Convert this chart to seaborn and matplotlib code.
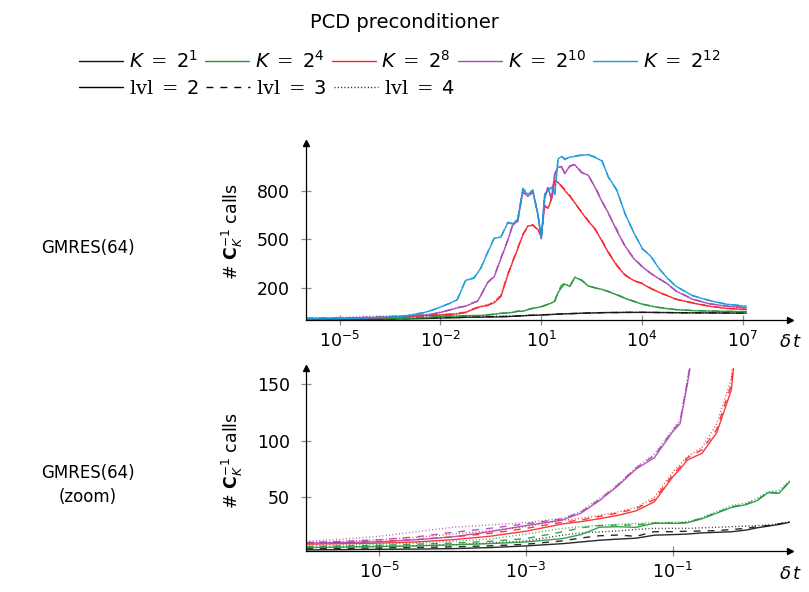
import numpy as np
import pandas as pd
import matplotlib
matplotlib.use("Agg")
import matplotlib.pyplot as plt
from matplotlib.lines import Line2D
from matplotlib.ticker import FixedLocator, NullLocator
import seaborn as sns

# x grid: log10 of the time step dt
log_dt = [-6, -5.5, -5, -4.5, -4, -3.5, -3, -2.5, -2.25, -2,
          -1.75, -1.5, -1.25, -1.0, -0.9, -0.8, -0.6, -0.4, -0.2, 0.0,
          0.15, 0.3, 0.45, 0.6, 0.75, 0.9, 1.0, 1.1, 1.2, 1.3,
          1.4, 1.5, 1.6, 1.7, 1.85, 2.0, 2.2, 2.4, 2.6, 2.8,
          3.0, 3.25, 3.5, 3.75, 4.0, 4.25, 4.5, 4.75, 5.0, 5.5,
          6.0, 6.5, 7.1]

k_exps = ['1', '4', '8', '10', '12']
lvls = ['2', '3', '4']

# number of C_K^-1 calls, K = 2^1
k1_lvl2 = [3.5, 3.7, 4.0, 4.2, 4.6, 5.5, 7.0, 9.0, 10.5, 12.0,
           13.0, 13.8, 16.5, 17.0, 17.2, 17.5, 18.5, 19.0, 19.5, 21.0,
           23.0, 24.5, 26.0, 28.0, 29.0, 30.0, 31.0, 32.0, 33.0, 34.0,
           35.0, 36.0, 37.0, 38.0, 39.0, 40.0, 42.0, 43.0, 44.0, 45.0,
           46.0, 46.0, 47.0, 47.0, 47.0, 47.0, 46.0, 46.0, 45.0, 44.0,
           44.0, 43.0, 43.0]
k1_lvl3 = [4.5, 4.8, 5.2, 5.6, 6.2, 7.0, 8.5, 11.5, 14.0, 16.0,
           16.6, 15.5, 19.6, 19.6, 19.8, 20.0, 20.2, 20.5, 21.5, 22.5,
           24.0, 25.0, 26.5, 28.5, 29.5, 30.5, 31.5, 32.5, 33.5, 34.5,
           35.5, 36.5, 37.5, 38.5, 39.5, 40.5, 42.0, 43.5, 44.5, 45.5,
           46.5, 46.5, 47.0, 47.5, 47.5, 47.0, 46.5, 46.0, 45.5, 44.5,
           44.0, 43.5, 43.0]
k1_lvl4 = [5.5, 6.0, 6.5, 7.2, 8.0, 9.5, 11.5, 16.5, 18.5, 19.4,
           20.2, 21.6, 22.5, 22.5, 22.5, 22.5, 23.0, 23.5, 24.0, 24.5,
           25.0, 25.5, 26.5, 28.5, 29.5, 30.5, 31.5, 32.5, 33.5, 34.5,
           35.5, 36.5, 37.5, 38.5, 39.5, 40.5, 42.5, 43.5, 44.5, 45.5,
           46.5, 47.0, 47.5, 47.5, 47.5, 47.0, 46.5, 46.0, 45.5, 45.0,
           44.5, 43.5, 43.0]

# K = 2^4
k4_lvl2 = [5.5, 6.0, 6.5, 7.0, 8.0, 9.0, 10.5, 13.5, 17.0, 23.5,
           24.0, 23.4, 27.0, 27.0, 27.0, 27.5, 31.0, 36.0, 41.0, 43.5,
           47.0, 54.0, 53.5, 64.0, 72.0, 78.0, 82.0, 88.0, 97.0, 105.0,
           115.0, 170.0, 200.0, 222.0, 208.0, 265.0, 245.0, 210.0, 198.0, 190.0,
           175.0, 155.0, 133.0, 115.0, 98.0, 87.0, 77.0, 70.0, 64.0, 58.0,
           55.0, 53.0, 52.0]
k4_lvl3 = [6.5, 7.0, 7.5, 8.5, 9.5, 11.0, 13.5, 19.5, 23.0, 25.0,
           25.5, 25.5, 27.3, 27.2, 27.3, 28.0, 31.5, 36.5, 41.5, 44.0,
           47.5, 54.5, 54.0, 64.5, 73.0, 79.0, 83.0, 90.0, 99.0, 108.0,
           118.0, 175.0, 215.0, 228.0, 212.0, 262.0, 247.0, 212.0, 200.0, 188.0,
           177.0, 157.0, 135.0, 117.0, 99.0, 88.0, 78.0, 71.0, 65.0, 59.0,
           56.0, 54.0, 52.0]
k4_lvl4 = [7.0, 7.8, 8.5, 9.5, 11.0, 13.0, 17.5, 22.5, 24.0, 25.2,
           26.0, 26.8, 27.6, 28.0, 28.2, 28.4, 32.0, 37.5, 42.5, 45.0,
           49.0, 55.0, 56.0, 65.0, 72.5, 78.5, 82.5, 89.0, 98.0, 106.0,
           116.0, 172.0, 205.0, 224.0, 210.0, 264.0, 246.0, 211.0, 199.0, 189.0,
           176.0, 156.0, 134.0, 116.0, 98.5, 87.5, 77.5, 70.5, 64.5, 58.5,
           55.5, 53.5, 52.0]

# K = 2^8
k8_lvl2 = [8.5, 9.0, 9.5, 10.5, 12.5, 15.5, 20.0, 26.5, 28.5, 31.0,
           34.0, 38.0, 46.0, 68.0, 75.0, 83.0, 89.0, 107.0, 145.0, 275.0,
           360.0, 440.0, 525.0, 582.0, 585.0, 560.0, 513.0, 709.0, 690.0, 745.0,
           864.0, 850.0, 830.0, 800.0, 765.0, 725.0, 665.0, 610.0, 565.0, 490.0,
           415.0, 335.0, 275.0, 245.0, 225.0, 195.0, 172.0, 150.0, 130.0, 105.0,
           85.0, 72.0, 65.0]
k8_lvl3 = [9.5, 10.0, 11.0, 12.5, 15.0, 18.0, 22.5, 28.0, 30.0, 33.0,
           36.0, 40.0, 48.0, 70.0, 77.0, 85.0, 92.0, 110.0, 150.0, 280.0,
           365.0, 445.0, 530.0, 578.0, 590.0, 555.0, 518.0, 700.0, 695.0, 750.0,
           860.0, 855.0, 825.0, 810.0, 770.0, 720.0, 670.0, 615.0, 560.0, 495.0,
           420.0, 340.0, 280.0, 240.0, 228.0, 198.0, 170.0, 152.0, 128.0, 107.0,
           86.0, 73.0, 66.0]
k8_lvl4 = [10.0, 11.0, 12.5, 14.5, 17.5, 20.5, 24.0, 29.5, 31.5, 34.0,
           37.0, 41.0, 50.0, 72.0, 79.0, 86.0, 94.0, 115.0, 155.0, 285.0,
           362.0, 442.0, 528.0, 580.0, 587.0, 558.0, 515.0, 705.0, 692.0, 748.0,
           862.0, 852.0, 828.0, 805.0, 768.0, 722.0, 668.0, 612.0, 562.0, 492.0,
           418.0, 338.0, 278.0, 242.0, 226.0, 196.0, 171.0, 151.0, 129.0, 106.0,
           85.0, 72.0, 65.0]

# K = 2^10
k10_lvl2 = [9.5, 10.0, 10.7, 12.5, 15.0, 19.5, 25.0, 30.0, 36.0, 47.0,
            60.0, 75.0, 85.0, 108.0, 115.0, 150.0, 230.0, 268.0, 380.0, 490.0,
            585.0, 612.0, 790.0, 765.0, 790.0, 650.0, 503.0, 750.0, 820.0, 745.0,
            905.0, 945.0, 950.0, 905.0, 955.0, 960.0, 912.0, 895.0, 820.0, 735.0,
            660.0, 550.0, 455.0, 380.0, 330.0, 290.0, 255.0, 225.0, 180.0, 128.0,
            100.0, 86.0, 75.0]
k10_lvl3 = [10.0, 11.0, 12.5, 15.0, 19.0, 22.5, 26.5, 31.0, 37.0, 48.0,
            61.0, 76.0, 87.0, 109.0, 117.0, 152.0, 232.0, 272.0, 385.0, 495.0,
            590.0, 608.0, 795.0, 760.0, 795.0, 655.0, 505.0, 745.0, 825.0, 750.0,
            900.0, 950.0, 945.0, 910.0, 950.0, 965.0, 915.0, 890.0, 825.0, 740.0,
            655.0, 560.0, 450.0, 385.0, 332.0, 288.0, 258.0, 222.0, 182.0, 130.0,
            101.0, 87.0, 76.0]
k10_lvl4 = [11.0, 13.0, 15.5, 19.5, 23.5, 25.5, 27.5, 31.5, 37.5, 49.0,
            61.0, 76.5, 88.0, 110.0, 118.0, 154.0, 228.0, 270.0, 382.0, 492.0,
            588.0, 615.0, 792.0, 768.0, 792.0, 652.0, 506.0, 752.0, 818.0, 748.0,
            908.0, 942.0, 952.0, 908.0, 952.0, 958.0, 910.0, 897.0, 818.0, 737.0,
            662.0, 552.0, 458.0, 382.0, 328.0, 292.0, 256.0, 224.0, 181.0, 129.0,
            100.0, 86.0, 75.0]

# K = 2^12
k12_lvl2 = [8.0, 8.5, 9.5, 11.0, 14.0, 18.0, 26.0, 45.0, 60.0, 80.0,
            100.0, 125.0, 245.0, 258.0, 290.0, 320.0, 415.0, 505.0, 513.0, 600.0,
            594.0, 625.0, 806.0, 778.0, 800.0, 655.0, 503.0, 780.0, 800.0, 822.0,
            775.0, 995.0, 1012.0, 992.0, 1008.0, 1012.0, 1018.0, 1024.0, 1005.0, 985.0,
            885.0, 800.0, 655.0, 540.0, 445.0, 395.0, 320.0, 258.0, 210.0, 150.0,
            120.0, 98.0, 85.0]
k12_lvl3 = [8.5, 9.0, 10.0, 11.5, 14.5, 18.5, 27.0, 46.0, 61.0, 81.0,
            101.0, 127.0, 248.0, 262.0, 293.0, 322.0, 418.0, 508.0, 515.0, 605.0,
            598.0, 622.0, 815.0, 782.0, 805.0, 650.0, 508.0, 775.0, 805.0, 818.0,
            780.0, 1000.0, 1015.0, 998.0, 1005.0, 1015.0, 1022.0, 1020.0, 1010.0, 990.0,
            880.0, 805.0, 650.0, 545.0, 440.0, 400.0, 318.0, 262.0, 208.0, 152.0,
            121.0, 99.0, 86.0]
k12_lvl4 = [9.0, 9.5, 10.5, 12.0, 15.0, 19.0, 27.5, 46.5, 61.5, 81.5,
            102.0, 126.0, 250.0, 260.0, 291.0, 321.0, 416.0, 506.0, 514.0, 602.0,
            596.0, 624.0, 810.0, 780.0, 802.0, 657.0, 505.0, 778.0, 802.0, 820.0,
            778.0, 998.0, 1010.0, 995.0, 1006.0, 1013.0, 1020.0, 1022.0, 1007.0, 987.0,
            883.0, 802.0, 652.0, 542.0, 442.0, 397.0, 319.0, 260.0, 209.0, 151.0,
            120.0, 98.0, 85.0]

series = {
    ('1', '2'): k1_lvl2, ('1', '3'): k1_lvl3, ('1', '4'): k1_lvl4,
    ('4', '2'): k4_lvl2, ('4', '3'): k4_lvl3, ('4', '4'): k4_lvl4,
    ('8', '2'): k8_lvl2, ('8', '3'): k8_lvl3, ('8', '4'): k8_lvl4,
    ('10', '2'): k10_lvl2, ('10', '3'): k10_lvl3, ('10', '4'): k10_lvl4,
    ('12', '2'): k12_lvl2, ('12', '3'): k12_lvl3, ('12', '4'): k12_lvl4,
}

colors = ['#111111', '#23963a', '#f5242a', '#a948b0', '#1b9ae0']
palette = dict(zip(k_exps, colors))
dash_map = {'2': '', '3': (5, 5), '4': (0.7, 1.7)}

rows = []
for (k, lvl), vals in series.items():
    for x, v in zip(log_dt, vals):
        rows.append([10.0 ** x, v, k, lvl])
df = pd.DataFrame(rows, columns=['dt', 'calls', 'K', 'lvl'])

sns.set_style("white")
plt.rcParams['font.family'] = ['DejaVu Sans']
plt.rcParams['text.color'] = 'black'
plt.rcParams['axes.labelcolor'] = 'black'
plt.rcParams['mathtext.fontset'] = 'custom'
plt.rcParams['mathtext.rm'] = 'DejaVu Serif'
plt.rcParams['mathtext.it'] = 'DejaVu Sans:italic'
plt.rcParams['mathtext.bf'] = 'DejaVu Sans:bold'
plt.rcParams['mathtext.sf'] = 'DejaVu Sans'

W, H = 809, 592
fig = plt.figure(figsize=(W / 100, H / 100), dpi=100)

def fx(px):
    return px / W

def fy(py):
    return 1 - py / H

ax1 = fig.add_axes([fx(306), fy(320), fx(790) - fx(306), fy(143) - fy(320)])
ax2 = fig.add_axes([fx(306), fy(551), fx(790) - fx(306), fy(368) - fy(551)])

sns.lineplot(data=df, x='dt', y='calls', hue='K', style='lvl',
             hue_order=k_exps, style_order=lvls, palette=palette, dashes=dash_map,
             estimator=None, lw=1.0, alpha=0.9, legend=False, ax=ax1)
sns.lineplot(data=df[df['K'] != '12'], x='dt', y='calls', hue='K', style='lvl',
             hue_order=k_exps[:4], style_order=lvls, palette=palette, dashes=dash_map,
             estimator=None, lw=1.0, alpha=0.9, legend=False, ax=ax2)

def style_axis(ax, xlim, ylim, xticks, yticks):
    ax.set_xscale('log')
    ax.set_xlim(*xlim)
    ax.set_ylim(*ylim)
    ax.xaxis.set_major_locator(FixedLocator(xticks))
    ax.xaxis.set_minor_locator(NullLocator())
    ax.yaxis.set_major_locator(FixedLocator(yticks))
    ax.set_xlabel('')
    ax.set_ylabel('')
    for s in ['top', 'right']:
        ax.spines[s].set_visible(False)
    for s in ['left', 'bottom']:
        ax.spines[s].set_color('black')
        ax.spines[s].set_linewidth(0.9)
    ax.tick_params(axis='both', which='major', direction='inout', length=7,
                   width=0.9, color='#8c8c8c', labelcolor='black', labelsize=12.5,
                   bottom=True, left=True)
    ax.tick_params(axis='x', pad=4)
    ax.tick_params(axis='y', pad=8)
    ax.plot([1], [0], marker='>', color='black', ms=5, transform=ax.transAxes, clip_on=False)
    ax.plot([0], [1], marker='^', color='black', ms=5, transform=ax.transAxes, clip_on=False)

style_axis(ax1, (1e-6, 10 ** 8.4), (0, 1095), [1e-5, 1e-2, 1e1, 1e4, 1e7], [200, 500, 800])
style_axis(ax2, (1e-6, 10 ** 0.6), (2.5, 164.4), [1e-5, 1e-3, 1e-1], [50, 100, 150])

# titles and labels
fig.text(0.5, fy(22), 'PCD preconditioner', ha='center', va='center', fontsize=14)
ylab = r'# $\mathbf{C}_K^{\mathsf{-1}}$ calls'
fig.text(fx(232), fy(231), ylab, rotation=90, ha='center', va='center', fontsize=12.5)
fig.text(fx(232), fy(460), ylab, rotation=90, ha='center', va='center', fontsize=12.5)
fig.text(fx(88), fy(248), 'GMRES(64)', ha='center', va='center', fontsize=12)
fig.text(fx(88), fy(485), 'GMRES(64)\n(zoom)', ha='center', va='center', fontsize=12,
         linespacing=1.4)
fig.text(fx(791), fy(342), r'$\delta\,t$', ha='center', va='center', fontsize=13)
fig.text(fx(791), fy(574), r'$\delta\,t$', ha='center', va='center', fontsize=13)

# legend rows
leg_kw = dict(loc='center left', frameon=False, fontsize=14, handlelength=2.27,
              handletextpad=0.3, columnspacing=0.35, borderpad=0, borderaxespad=0)
k_handles = [Line2D([], [], color=c, lw=1.0) for c in colors]
k_labels = [r'$K\;=\;\mathsf{2}^{\mathsf{%s}}$' % e for e in k_exps]
fig.legend(k_handles, k_labels, bbox_to_anchor=(fx(79), fy(61)), ncol=5, **leg_kw)
l_handles = [Line2D([], [], color='black', lw=1.0),
             Line2D([], [], color='black', lw=1.0, dashes=dash_map['3']),
             Line2D([], [], color='black', lw=1.0, dashes=dash_map['4'])]
l_labels = [r'$\mathrm{lvl}\;=\;\mathsf{%s}$' % l for l in lvls]
fig.legend(l_handles, l_labels, bbox_to_anchor=(fx(79), fy(88)), ncol=3, **leg_kw)

fig.savefig('out.png', dpi=100)
